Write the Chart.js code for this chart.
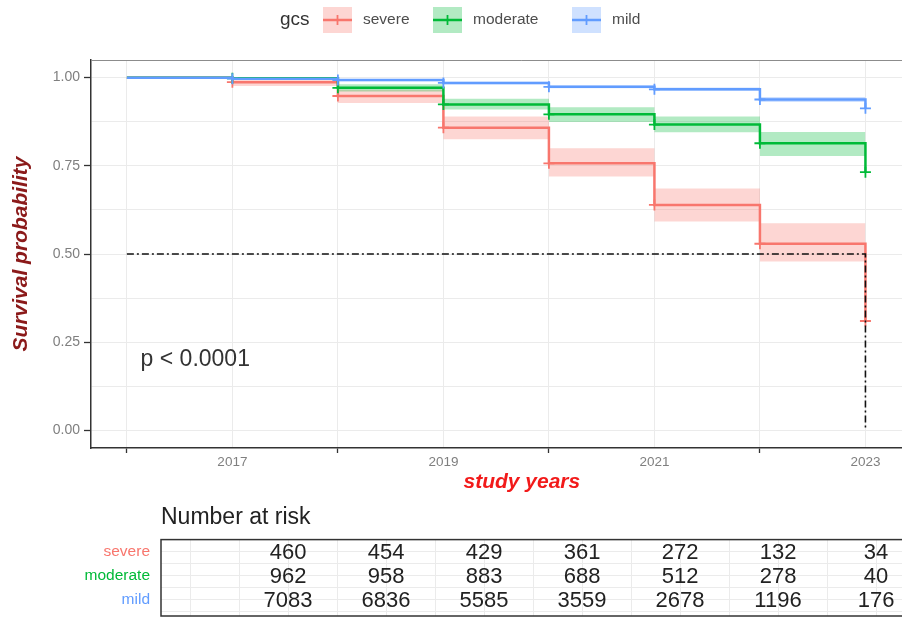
<!DOCTYPE html>
<html>
<head>
<meta charset="utf-8">
<title>Survival by GCS group</title>
<script src="https://cdn.jsdelivr.net/npm/chart.js@4.4.1/dist/chart.umd.min.js"></script>
<style>
  html, body { margin: 0; padding: 0; background: #fff; width: 902px; height: 618px; overflow: hidden; }
  #wrap { position: relative; width: 902px; height: 618px; overflow: hidden; }
  #km { position: absolute; left: 0; top: 0; }
  #risk { position: absolute; left: 0; top: 500px; }
</style>
</head>
<body>
<div id="wrap">
  <canvas id="km" width="960" height="500"></canvas>
  <canvas id="risk" width="960" height="118"></canvas>
</div>
<script>
// ---- data ----
const years = [2016, 2017, 2018, 2019, 2020, 2021, 2022, 2023];
const xTickLabels = ['', '2017', '', '2019', '', '2021', '', '2023'];
const yTicks = [0.00, 0.25, 0.50, 0.75, 1.00];

const groups = ['severe', 'moderate', 'mild'];

const severeSurv  = [1.000, 0.987, 0.948, 0.858, 0.757, 0.639, 0.529, 0.310];
const severeLower = [1.000, 0.976, 0.928, 0.825, 0.720, 0.592, 0.479, 0.310];
const severeUpper = [1.000, 0.998, 0.966, 0.890, 0.800, 0.686, 0.587, 0.310];

const moderateSurv  = [1.000, 0.998, 0.971, 0.924, 0.896, 0.867, 0.814, 0.732];
const moderateLower = [1.000, 0.995, 0.961, 0.910, 0.874, 0.845, 0.778, 0.732];
const moderateUpper = [1.000, 1.000, 0.981, 0.940, 0.916, 0.890, 0.846, 0.732];

const mildSurv  = [1.000, 0.997, 0.993, 0.985, 0.974, 0.967, 0.938, 0.913];
const mildLower = [1.000, 0.995, 0.990, 0.981, 0.970, 0.962, 0.931, 0.913];
const mildUpper = [1.000, 0.999, 0.996, 0.988, 0.978, 0.972, 0.945, 0.913];

const pValueText = 'p < 0.0001';

const riskYears = [2016, 2017, 2018, 2019, 2020, 2021, 2022];
const severeRisk   = [460, 454, 429, 361, 272, 132, 34];
const moderateRisk = [962, 958, 883, 688, 512, 278, 40];
const mildRisk     = [7083, 6836, 5585, 3559, 2678, 1196, 176];

// ---- styling ----
const FONT = "'Liberation Sans', Arial, Helvetica, sans-serif";
const palette = {
  severe:   { line: '#F8766D', band: 'rgba(248,118,109,0.30)' },
  moderate: { line: '#00BA38', band: 'rgba(0,186,56,0.30)' },
  mild:     { line: '#619CFF', band: 'rgba(97,156,255,0.30)' }
};
const GRID = '#EBEBEB';

const curves = [
  { name: 'severe',   surv: severeSurv,   lower: severeLower,   upper: severeUpper },
  { name: 'moderate', surv: moderateSurv, lower: moderateLower, upper: moderateUpper },
  { name: 'mild',     surv: mildSurv,     lower: mildLower,     upper: mildUpper }
];

const toPoints = arr => years.map((yr, i) => ({ x: yr, y: arr[i] }));

// ---- datasets for the survival panel ----
const datasets = [];
curves.forEach((c, k) => {
  datasets.push({
    label: c.name, isCurve: true,
    data: toPoints(c.surv),
    borderColor: palette[c.name].line,
    backgroundColor: palette[c.name].band,
    borderWidth: 2.5,
    stepped: true,
    fill: false,
    pointStyle: 'cross',
    pointRadius: ctx => (ctx.dataIndex === 0 ? 0 : 5.5),
    pointBorderWidth: 1.8,
    pointBorderColor: palette[c.name].line,
    pointHoverRadius: 0,
    order: 2 - k
  });
});
curves.forEach((c, k) => {
  datasets.push({
    label: c.name + ' upper',
    data: toPoints(c.upper),
    borderWidth: 0, pointRadius: 0, stepped: true,
    backgroundColor: palette[c.name].band,
    fill: '+1',
    order: 20 - k
  });
  datasets.push({
    label: c.name + ' lower',
    data: toPoints(c.lower),
    borderWidth: 0, pointRadius: 0, stepped: true,
    fill: false,
    order: 20 - k
  });
});

// median survival reference line for the group that crosses 0.5
const medIdx = severeSurv.findIndex(v => v <= 0.5);
const medYear = years[medIdx];
datasets.push({
  label: 'median',
  data: [{ x: years[0], y: 0.5 }, { x: medYear, y: 0.5 }, { x: medYear, y: 0 }],
  borderColor: '#111',
  borderWidth: 1.6,
  borderDash: [7, 3, 2, 3],
  pointRadius: 0,
  fill: false,
  order: -1
});

// ---- plugins ----
const panelFrame = {
  id: 'panelFrame',
  afterDraw(chart, args, opts) {
    const { ctx, chartArea: a } = chart;
    ctx.save();
    ctx.strokeStyle = opts.color;
    ctx.lineWidth = opts.width;
    if (opts.full) {
      ctx.strokeRect(a.left, a.top, a.right - a.left, a.bottom - a.top);
    } else {
      ctx.beginPath();
      ctx.moveTo(a.left, a.top + 0.5);
      ctx.lineTo(a.right, a.top + 0.5);
      ctx.stroke();
    }
    ctx.restore();
  }
};

const groupLegend = {
  id: 'groupLegend',
  afterDraw(chart, args, opts) {
    const ctx = chart.ctx;
    const curvesDs = chart.data.datasets.filter(d => d.isCurve);
    ctx.save();
    ctx.textBaseline = 'middle';
    ctx.textAlign = 'left';
    ctx.fillStyle = opts.titleColor;
    ctx.font = opts.titleFont;
    ctx.fillText(opts.title, opts.titleX, opts.y);
    curvesDs.forEach((d, i) => {
      const x = opts.keyX[i];
      const top = opts.y - opts.keyH / 2;
      ctx.fillStyle = d.backgroundColor;
      ctx.fillRect(x, top, opts.keyW, opts.keyH);
      ctx.strokeStyle = d.borderColor;
      ctx.lineWidth = 2.5;
      ctx.beginPath();
      ctx.moveTo(x, opts.y);
      ctx.lineTo(x + opts.keyW, opts.y);
      ctx.stroke();
      ctx.lineWidth = 1.8;
      ctx.beginPath();
      ctx.moveTo(x + opts.keyW / 2, opts.y - 5);
      ctx.lineTo(x + opts.keyW / 2, opts.y + 5);
      ctx.stroke();
      ctx.fillStyle = opts.labelColor;
      ctx.font = opts.labelFont;
      ctx.fillText(d.label, x + opts.keyW + 11, opts.y);
    });
    ctx.restore();
  }
};

const pLabel = {
  id: 'pLabel',
  afterDatasetsDraw(chart, args, opts) {
    const { ctx, scales } = chart;
    ctx.save();
    ctx.font = opts.font;
    ctx.fillStyle = opts.color;
    ctx.textAlign = 'left';
    ctx.textBaseline = 'middle';
    ctx.fillText(opts.text, scales.x.getPixelForValue(opts.x), scales.y.getPixelForValue(opts.y));
    ctx.restore();
  }
};

const isQuarter = v => Math.abs(v * 4 - Math.round(v * 4)) < 1e-6;

// ---- survival panel ----
new Chart(document.getElementById('km'), {
  type: 'line',
  data: { datasets },
  plugins: [panelFrame, groupLegend, pLabel],
  options: {
    responsive: false,
    animation: false,
    events: [],
    layout: { padding: { top: 60, left: 0, right: 0, bottom: 0 } },
    plugins: {
      legend: { display: false },
      tooltip: { enabled: false },
      filler: { drawTime: 'beforeDatasetsDraw' },
      panelFrame: { color: '#8c8c8c', width: 1, full: false },
      groupLegend: {
        title: 'gcs', titleX: 280, titleFont: `19px ${FONT}`, titleColor: '#333',
        y: 20, keyX: [323, 433, 572], keyW: 29, keyH: 26,
        labelFont: `15.5px ${FONT}`, labelColor: '#4d4d4d'
      },
      pLabel: { text: pValueText, x: 2016.13, y: 0.2, font: `23px ${FONT}`, color: '#333' }
    },
    scales: {
      x: {
        type: 'linear',
        min: 2015.66,
        max: 2023.827,
        afterBuildTicks: s => { s.ticks = years.map(v => ({ value: v })); },
        afterFit: s => { s.height = 52; },
        ticks: {
          callback: (v, i) => xTickLabels[i],
          font: { family: FONT, size: 13.5 },
          color: '#7f7f7f',
          padding: 1,
          maxRotation: 0,
          autoSkip: false
        },
        grid: {
          color: GRID,
          lineWidth: 1,
          tickLength: 5,
          tickWidth: 1.3,
          tickColor: ctx => (ctx.index % 2 === 0 ? '#333' : 'rgba(0,0,0,0)')
        },
        border: { display: true, color: '#333', width: 1.5 },
        title: {
          display: true,
          text: 'study years',
          color: '#F21A1A',
          font: { family: FONT, size: 21, weight: 'bold', style: 'italic' },
          padding: { top: 0, bottom: 5 }
        }
      },
      y: {
        type: 'linear',
        min: -0.05,
        max: 1.05,
        afterBuildTicks: s => {
          const t = [];
          for (let i = 0; i < yTicks.length; i++) {
            t.push({ value: yTicks[i] });
            if (i < yTicks.length - 1) t.push({ value: (yTicks[i] + yTicks[i + 1]) / 2 });
          }
          s.ticks = t;
        },
        afterFit: s => { s.width = 91; },
        ticks: {
          callback: v => (isQuarter(v) ? v.toFixed(2) : ''),
          font: { family: FONT, size: 14 },
          color: '#7f7f7f',
          padding: 4,
          autoSkip: false
        },
        grid: {
          color: GRID,
          lineWidth: 1,
          tickLength: 7,
          tickWidth: 1.3,
          tickColor: ctx => (ctx.tick && isQuarter(ctx.tick.value) ? '#333' : 'rgba(0,0,0,0)')
        },
        border: { display: true, color: '#333', width: 1.5 },
        title: {
          display: true,
          text: 'Survival probability',
          color: '#8B1A1A',
          font: { family: FONT, size: 21, weight: 'bold', style: 'italic' },
          padding: { top: 9, bottom: 0 }
        }
      }
    }
  }
});

// ---- number-at-risk table ----
const riskRows = [severeRisk, moderateRisk, mildRisk];
const riskDatasets = riskRows.map((row, r) => ({
  label: groups[r],
  data: riskYears.map((yr, i) => ({ x: yr, y: r + 1, n: row[i] })),
  pointRadius: 0,
  showLine: false
}));

const riskText = {
  id: 'riskText',
  afterDatasetsDraw(chart, args, opts) {
    const ctx = chart.ctx;
    ctx.save();
    ctx.font = opts.font;
    ctx.fillStyle = opts.color;
    ctx.textAlign = 'center';
    ctx.textBaseline = 'middle';
    chart.data.datasets.forEach((d, di) => {
      const meta = chart.getDatasetMeta(di);
      meta.data.forEach((el, i) => ctx.fillText(String(d.data[i].n), el.x, el.y + 1));
    });
    ctx.restore();
  }
};

const tableTicks = [];
for (let v = 2015; v <= 2022.5; v += 0.5) tableTicks.push({ value: v });

new Chart(document.getElementById('risk'), {
  type: 'scatter',
  data: { datasets: riskDatasets },
  plugins: [riskText, panelFrame],
  options: {
    responsive: false,
    animation: false,
    events: [],
    layout: { padding: { top: 0, left: 0, right: 0, bottom: 2 } },
    plugins: {
      legend: { display: false },
      tooltip: { enabled: false },
      title: {
        display: true,
        text: 'Number at risk',
        align: 'start',
        fullSize: false,
        color: '#222',
        font: { family: FONT, size: 23, weight: 'normal' },
        padding: { top: 4, bottom: 8 }
      },
      riskText: { font: `22px ${FONT}`, color: '#222' },
      panelFrame: { color: '#333', width: 1.5, full: true }
    },
    scales: {
      x: {
        type: 'linear',
        min: 2014.704,
        max: 2022.857,
        afterBuildTicks: s => { s.ticks = tableTicks.map(t => ({ value: t.value })); },
        afterFit: s => { s.height = 0; s.paddingLeft = 0; s.paddingRight = 0; },
        ticks: { display: false },
        grid: { color: GRID, drawTicks: false },
        border: { display: false }
      },
      y: {
        type: 'linear',
        reverse: true,
        min: 0.5,
        max: 3.667,
        afterBuildTicks: s => { s.ticks = [1, 1.5, 2, 2.5, 3, 3.5].map(v => ({ value: v })); },
        afterFit: s => { s.width = 161; s.paddingTop = 0; s.paddingBottom = 0; },
        ticks: {
          callback: v => (Number.isInteger(v) ? groups[v - 1] : ''),
          color: ctx => {
            const v = ctx.tick ? ctx.tick.value : 0;
            return Number.isInteger(v) ? palette[groups[v - 1]].line : 'rgba(0,0,0,0)';
          },
          font: { family: FONT, size: 15.5 },
          padding: 11,
          autoSkip: false
        },
        grid: { color: GRID, drawTicks: false },
        border: { display: false }
      }
    }
  }
});
</script>
</body>
</html>
